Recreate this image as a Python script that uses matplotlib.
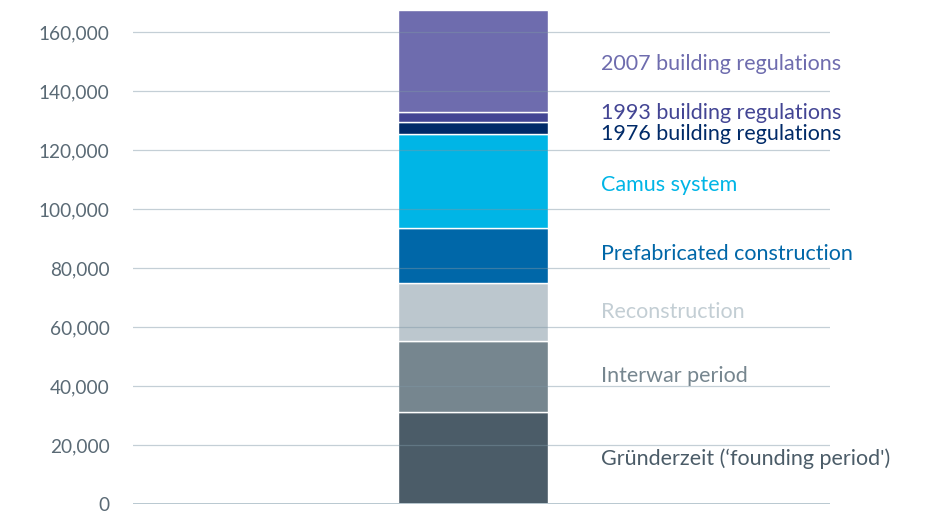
import matplotlib
matplotlib.use("Agg")
import matplotlib.pyplot as plt
import numpy as np

categories = ["Gründerzeit (‘founding period')", "Interwar period", "Reconstruction",
              "Prefabricated construction", "Camus system", "1976 building regulations",
              "1993 building regulations", "2007 building regulations"]
values = [31300, 24150, 19570, 18520, 31950, 4000, 3400, 34660]
colors = ["#4b5c68", "#76868f", "#bcc7ce", "#0067a8", "#00b5e6", "#002a68", "#434594", "#6e6cae"]
label_colors = ["#4b5c68", "#76868f", "#c3ced4", "#0067a8", "#00b5e6", "#002a68", "#434594", "#6e6cae"]
yticks = [0, 20000, 40000, 60000, 80000, 100000, 120000, 140000, 160000]

plt.rcParams['font.family'] = ['Lato', 'DejaVu Sans']

fig = plt.figure(figsize=(9.26, 5.13), dpi=100)
ax = fig.add_axes([133/926, 9/513, 697/926, 501.2/513])

bottoms = np.concatenate([[0], np.cumsum(values)[:-1]])
xc, w = 0.4878, 0.2152
ax.bar([xc]*len(values), values, bottom=bottoms, width=w, color=colors,
       edgecolor="white", linewidth=1.0, zorder=2)

ax.set_xlim(0, 1)
ax.set_ylim(0, 170000)
for t in yticks[1:]:
    ax.axhline(t, color="#7d96a4", alpha=0.45, linewidth=0.9, zorder=3)
ax.axhline(0, color="#b9c8d0", linewidth=1.4, zorder=3)

ax.set_yticks(yticks)
ax.set_yticklabels([f"{v:,}" for v in yticks], fontsize=13.7, color="#5a6a75")
ax.tick_params(axis='y', length=0, pad=17)
ax.set_xticks([])
for s in ax.spines.values():
    s.set_visible(False)

offsets = [-1, 0, 0, 2, -4, -6, 4, -3]
centers = bottoms + np.array(values) / 2
for lab, c, col, off in zip(categories, centers, label_colors, offsets):
    ax.annotate(lab, xy=((601-133)/697, c), xycoords=('axes fraction', 'data'),
                xytext=(0, off * 0.72), textcoords='offset points',
                fontsize=15.5, color=col, va='center', ha='left', annotation_clip=False)

fig.savefig("out.png", dpi=100)
